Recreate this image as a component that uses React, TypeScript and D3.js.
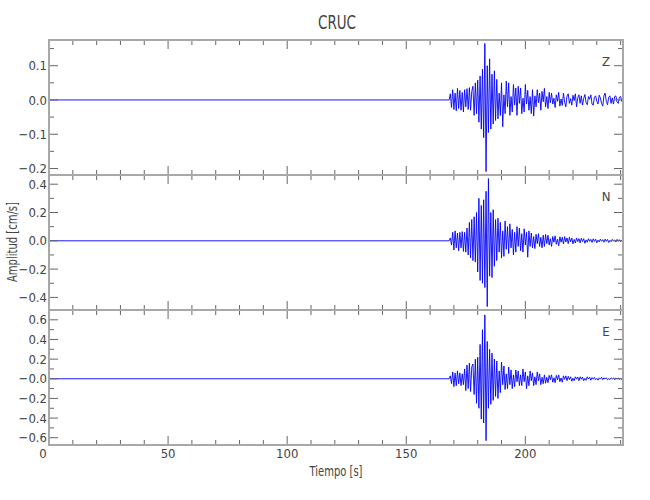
import React from "react";
import * as d3 from "d3";

// ---- data ----
const stationName = "CRUC";
const components = ["Z", "N", "E"];
const onsetTime = 168; // s, first sample of the event arrays
const sampleStep = 0.5; // s
const timeMax = 241;

const zValues = [
  0, 0.018, -0.022, 0.03, -0.028, 0.02, -0.032, 0.034, -0.025, 0.028,
  -0.03, 0.022, -0.035, 0.03, -0.02, 0.033, -0.028, 0.036, -0.03, 0.025,
  0.04, -0.045, 0.05, -0.04, 0.058, -0.065, 0.07, -0.085, 0.09, -0.11,
  0.165, -0.209, 0.1, -0.095, 0.12, -0.085, 0.075, -0.07, 0.085, -0.06,
  0.06, -0.055, 0.02, -0.045, 0.05, -0.078, 0.015, -0.04, 0.055, -0.02,
  0.05, -0.045, 0.01, -0.035, 0.045, -0.015, 0.035, -0.045, 0.04, -0.01,
  0.035, -0.04, 0.005, -0.035, 0.045, -0.012, 0.028, -0.03, 0.01, -0.04,
  0.03, -0.047, 0.012, -0.02, 0.03, -0.008, 0.02, -0.03, 0.025, -0.005,
  0.034, -0.02, 0.01, -0.025, 0.022, -0.008, 0.02, -0.012, 0.005, -0.022,
  0.015, -0.004, 0.022, -0.018, 0.003, -0.016, 0.02, -0.006, -0.02, 0.012,
  0.018, -0.01, 0.004, -0.015, 0.014, -0.002, 0.018, -0.02, 0.006, 0.015,
  -0.01, 0.012, -0.015, 0.004, 0.016, -0.008, -0.014, 0.01, 0.002, 0.015,
  -0.012, -0.015, 0.008, 0.012, -0.004, -0.012, 0.014, 0.006, -0.01, -0.018,
  0.012, 0.02, -0.004, -0.014, 0.008, 0.012, -0.01, 0.006, -0.012, 0.01,
  0.012, -0.006, -0.01, 0.008, 0.01, -0.004, 0.002,
];

const nValues = [
  0, 0.02, -0.03, 0.06, -0.065, 0.07, -0.05, 0.055, -0.07, 0.06,
  -0.05, 0.065, -0.075, 0.06, -0.08, 0.09, -0.1, 0.13, -0.12, 0.15,
  -0.14, 0.17, -0.15, 0.2, -0.22, 0.3, -0.28, 0.25, -0.3, 0.29,
  -0.33, 0.35, -0.465, 0.44, -0.25, 0.2, -0.26, 0.22, -0.18, 0.15,
  -0.14, 0.16, -0.08, 0.13, -0.12, 0.07, -0.11, 0.14, -0.06, 0.1,
  -0.09, 0.12, -0.05, 0.08, -0.1, 0.06, -0.08, 0.1, -0.04, 0.09,
  -0.07, 0.05, -0.08, 0.085, -0.03, 0.06, -0.116, 0.07, -0.04, 0.055,
  -0.05, 0.03, -0.055, 0.045, -0.02, 0.05, -0.04, 0.025, -0.05, 0.04,
  -0.04, 0.045, -0.02, 0.04, -0.03, 0.015, -0.04, 0.03, -0.01, 0.035,
  -0.025, 0.012, -0.035, 0.028, -0.01, 0.025, -0.022, 0.03, -0.008, 0.02,
  -0.02, 0.025, -0.008, 0.02, -0.022, 0.01, -0.015, 0.02, -0.006, 0.015,
  -0.015, 0.018, -0.005, 0.015, -0.018, 0.006, -0.01, 0.015, -0.004, 0.01,
  -0.012, 0.014, -0.004, 0.012, -0.014, 0.005, -0.008, 0.012, -0.003, 0.008,
  -0.01, 0.012, -0.004, 0.01, -0.012, 0.004, -0.006, 0.01, -0.002, 0.006,
  -0.008, 0.01, -0.003, 0.008, -0.006, 0.004, 0,
];

const eValues = [
  0, 0.03, -0.05, 0.07, -0.08, 0.06, -0.07, 0.08, -0.05, 0.06,
  -0.07, 0.05, -0.06, 0.1, -0.12, 0.14, -0.1, 0.16, -0.13, 0.12,
  0.15, -0.16, 0.2, -0.25, 0.22, -0.3, 0.35, -0.41, 0.5, -0.45,
  0.65, -0.63, 0.38, -0.3, 0.3, -0.26, 0.26, -0.22, 0.2, -0.18,
  0.18, -0.2, 0.08, -0.14, 0.17, -0.06, 0.13, -0.11, 0.05, -0.1,
  0.12, -0.06, 0.09, -0.1, 0.04, -0.08, 0.09, -0.03, 0.08, -0.07,
  0.04, -0.07, 0.1, -0.03, 0.07, -0.1, 0.03, -0.07, 0.08, -0.02,
  0.06, -0.07, 0.02, -0.06, 0.07, -0.02, 0.05, -0.06, 0.015, -0.05,
  0.04, -0.045, 0.015, -0.04, 0.035, -0.01, 0.04, -0.035, 0.01, -0.04,
  0.035, -0.01, 0.04, -0.03, 0.008, -0.035, 0.03, -0.006, 0.03, -0.02,
  0.025, -0.008, 0.02, -0.025, 0.006, -0.02, 0.02, -0.004, 0.018, -0.02,
  0.02, -0.005, 0.018, -0.02, 0.004, -0.015, 0.02, -0.003, 0.015, -0.015,
  0.012, -0.004, 0.014, -0.01, 0.003, -0.014, 0.01, -0.002, 0.015, -0.01,
  0.01, -0.003, 0.01, -0.01, 0.002, -0.008, 0.01, -0.002, 0.008, -0.01,
  0.008, -0.002, 0.01, -0.006, 0.002, -0.006, 0.004,
];

const xMajorTicks = [0, 50, 100, 150, 200];
const zTicks = [-0.2, -0.1, 0.0, 0.1];
const nTicks = [-0.4, -0.2, 0.0, 0.2, 0.4];
const eTicks = [-0.6, -0.4, -0.2, 0.0, 0.2, 0.4, 0.6];
const zTickLabels = ["\u22120.2", "\u22120.1", "0.0", "0.1"];
const nTickLabels = ["\u22120.4", "\u22120.2", "0.0", "0.2", "0.4"];
const eTickLabels = ["\u22120.6", "\u22120.4", "\u22120.2", "\u22120.0", "0.2", "0.4", "0.6"];
const zDomain = [-0.219, 0.175];
const nDomain = [-0.489, 0.465];
const eDomain = [-0.674, 0.7];

// ---- layout ----
const W = 650;
const H = 500;
const left = 49;
const right = 623;
const top = 40;
const panelH = 135;
const FONT = "'Liberation Sans Narrow', 'DejaVu Sans Condensed', sans-serif";
const axisColor = "#a8a8a8";
const tickColor = "#666";
const textColor = "#444";

const panels = [
  { name: components[0], values: zValues, domain: zDomain, ticks: zTicks, labels: zTickLabels, minor: 0.05 },
  { name: components[1], values: nValues, domain: nDomain, ticks: nTicks, labels: nTickLabels, minor: 0.1 },
  { name: components[2], values: eValues, domain: eDomain, ticks: eTicks, labels: eTickLabels, minor: 0.1 },
];

export default function App() {
  const x = d3.scaleLinear().domain([0, timeMax]).range([left, right]);
  const xMinor = d3.range(0, timeMax + 0.001, 10);
  const bottomY = top + panelH * 3;

  return (
    <svg
      width={W}
      height={H}
      style={{ position: "absolute", left: 0, top: 0, background: "#fff" }}
      fontFamily={FONT}
    >
      <text x={337} y={29} textAnchor="middle" fontSize={20} fill={textColor} textLength={38} lengthAdjust="spacingAndGlyphs">
        {stationName}
      </text>

      {panels.map((p, pi) => {
        const y0 = top + pi * panelH;
        const y1 = y0 + panelH;
        const y = d3.scaleLinear().domain(p.domain).range([y1, y0]);
        const pts: [number, number][] = [[0, 0]];
        p.values.forEach((v, i) => pts.push([onsetTime + i * sampleStep, v]));
        const line = d3
          .line<[number, number]>()
          .x((d) => x(d[0]))
          .y((d) => y(d[1]));
        const yMinor = d3
          .range(Math.ceil(p.domain[0] / p.minor - 1e-6), Math.floor(p.domain[1] / p.minor + 1e-6) + 1)
          .map((k) => k * p.minor);
        const isMajor = (v: number) => p.ticks.some((t) => Math.abs(t - v) < 1e-6);
        return (
          <g key={p.name}>
            <defs>
              <clipPath id={`clip-${pi}`}>
                <rect x={left} y={y0} width={right - left} height={panelH} />
              </clipPath>
            </defs>
            <path d={line(pts) || ""} fill="none" stroke="#0000ff" strokeWidth={0.9} clipPath={`url(#clip-${pi})`} />
            {xMinor.map((t) => {
              const maj = xMajorTicks.includes(t);
              const len = maj ? 9 : 5;
              return (
                <g key={"xt" + t} stroke={tickColor} strokeWidth={1}>
                  <line x1={x(t)} x2={x(t)} y1={y0} y2={y0 + len} />
                  <line x1={x(t)} x2={x(t)} y1={y1} y2={y1 - len} />
                </g>
              );
            })}
            {yMinor.map((v) => {
              const maj = isMajor(v);
              const len = maj ? 9 : 5;
              return (
                <g key={"yt" + v} stroke={tickColor} strokeWidth={1}>
                  <line x1={left} x2={left + len} y1={y(v)} y2={y(v)} />
                  <line x1={right} x2={right - len} y1={y(v)} y2={y(v)} />
                </g>
              );
            })}
            {p.ticks.map((v, i) => (
              <text
                key={"yl" + v}
                x={left - 2}
                y={y(v)}
                dy="0.35em"
                textAnchor="end"
                fontSize={13}
                fill={textColor}
              >
                {p.labels[i]}
              </text>
            ))}
            <rect x={left} y={y0} width={right - left} height={panelH} fill="none" stroke={axisColor} strokeWidth={2} />
            <text x={606} y={y0 + 26} textAnchor="middle" fontSize={13} fill={textColor}>
              {p.name}
            </text>
          </g>
        );
      })}

      {xMajorTicks.map((t) => (
        <text key={"xl" + t} x={x(t) - (t === 0 ? 6 : 0)} y={bottomY + 13} textAnchor="middle" fontSize={13} fill={textColor}>
          {t}
        </text>
      ))}
      <text x={336} y={476} textAnchor="middle" fontSize={14} fill={textColor} textLength={53} lengthAdjust="spacingAndGlyphs">
        Tiempo [s]
      </text>
      <text
        transform={`translate(17, 242) rotate(-90)`}
        textAnchor="middle"
        fontSize={14}
        fill={textColor}
        textLength={80}
        lengthAdjust="spacingAndGlyphs"
      >
        Amplitud [cm/s]
      </text>
    </svg>
  );
}
